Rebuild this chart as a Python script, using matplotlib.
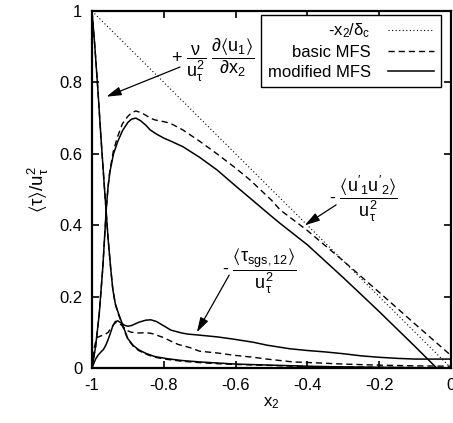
import matplotlib
matplotlib.use('Agg')
import matplotlib.pyplot as plt

plt.rcParams['font.family'] = ['Liberation Sans', 'DejaVu Sans']
plt.rcParams['font.size'] = 12
plt.rcParams['mathtext.fontset'] = 'custom'
plt.rcParams['mathtext.rm'] = 'Liberation Sans'
plt.rcParams['mathtext.it'] = 'Liberation Sans'
plt.rcParams['mathtext.sf'] = 'Liberation Sans'
plt.rcParams['mathtext.default'] = 'rm'
plt.rcParams['mathtext.fallback'] = 'stixsans'
plt.rcParams['axes.unicode_minus'] = False

# referencia: -x2/delta_c
x_ref = [-1.0, 0.0]
y_ref = [1.0, 0.0]

# tensao viscosa (modified / basic)
x_visc = [-1.0, -0.992, -0.983, -0.975, -0.965, -0.955, -0.948, -0.942, -0.935, -0.927,
          -0.919, -0.91, -0.90, -0.885, -0.87, -0.85, -0.825, -0.79, -0.75, -0.70,
          -0.65, -0.60, -0.50, -0.40, -0.30, -0.20, -0.10, 0.0]
visc_mod = [1.0, 0.9, 0.77, 0.645, 0.5, 0.36, 0.28, 0.22, 0.18, 0.155,
            0.133, 0.108, 0.082, 0.063, 0.051, 0.041, 0.032, 0.026, 0.021, 0.017,
            0.014, 0.011, 0.008, 0.005, 0.003, 0.002, 0.001, 0.0]
visc_bas = [1.0, 0.9, 0.77, 0.645, 0.5, 0.36, 0.28, 0.22, 0.178, 0.152,
            0.13, 0.105, 0.08, 0.061, 0.049, 0.039, 0.03, 0.024, 0.019, 0.015,
            0.012, 0.01, 0.007, 0.004, 0.003, 0.002, 0.001, 0.0]

# tensao de Reynolds
x_rey_mod = [-1.0, -0.99, -0.98, -0.97, -0.96, -0.955, -0.95, -0.94, -0.928, -0.915,
             -0.90, -0.89, -0.878, -0.865, -0.85, -0.838, -0.82, -0.80, -0.775, -0.747,
             -0.70, -0.652, -0.60, -0.56, -0.50, -0.476, -0.40, -0.30, -0.263, -0.20,
             -0.10, -0.04, 0.0]
rey_mod = [0.0, 0.06, 0.15, 0.28, 0.45, 0.51, 0.55, 0.60, 0.635, 0.665,
           0.688, 0.697, 0.70, 0.693, 0.68, 0.667, 0.655, 0.644, 0.633, 0.62,
           0.59, 0.555, 0.51, 0.476, 0.425, 0.405, 0.345, 0.253, 0.218, 0.158,
           0.06, 0.0, -0.04]
x_rey_bas = [-1.0, -0.99, -0.98, -0.97, -0.96, -0.955, -0.95, -0.94, -0.928, -0.915,
             -0.90, -0.89, -0.878, -0.865, -0.85, -0.838, -0.825, -0.80, -0.783, -0.747,
             -0.70, -0.652, -0.60, -0.56, -0.50, -0.476, -0.40, -0.30, -0.20, -0.10, 0.0]
rey_bas = [0.0, 0.06, 0.15, 0.28, 0.45, 0.51, 0.555, 0.61, 0.65, 0.685,
           0.705, 0.715, 0.72, 0.716, 0.708, 0.70, 0.695, 0.69, 0.686, 0.667,
           0.635, 0.60, 0.56, 0.527, 0.47, 0.443, 0.385, 0.30, 0.212, 0.123, 0.035]

# tensao sub-malha
x_sgs_mod = [-1.0, -0.99, -0.983, -0.975, -0.968, -0.961, -0.955, -0.948, -0.942, -0.935,
             -0.928, -0.92, -0.91, -0.90, -0.89, -0.87, -0.85, -0.836, -0.82, -0.80,
             -0.78, -0.75, -0.733, -0.70, -0.65, -0.607, -0.55, -0.513, -0.45, -0.40,
             -0.35, -0.30, -0.25, -0.20, -0.15, -0.10, -0.05, 0.0]
sgs_mod = [0.0, 0.025, 0.036, 0.045, 0.052, 0.065, 0.08, 0.10, 0.118, 0.13,
           0.132, 0.127, 0.12, 0.117, 0.119, 0.128, 0.134, 0.135, 0.13, 0.118,
           0.106, 0.098, 0.095, 0.092, 0.087, 0.081, 0.072, 0.064, 0.054, 0.049,
           0.045, 0.04, 0.034, 0.03, 0.027, 0.025, 0.025, 0.025]
x_sgs_bas = [-1.0, -0.993, -0.987, -0.975, -0.965, -0.955, -0.945, -0.935, -0.928, -0.92,
             -0.91, -0.90, -0.89, -0.87, -0.85, -0.835, -0.82, -0.80, -0.78, -0.76,
             -0.73, -0.70, -0.65, -0.607, -0.55, -0.513, -0.44, -0.365, -0.30, -0.20,
             -0.10, 0.0]
sgs_bas = [0.0, 0.06, 0.085, 0.09, 0.093, 0.10, 0.115, 0.127, 0.128, 0.122,
           0.112, 0.104, 0.10, 0.098, 0.099, 0.097, 0.092, 0.085, 0.075, 0.066,
           0.058, 0.047, 0.042, 0.036, 0.03, 0.025, 0.017, 0.014, 0.011, 0.008,
           0.006, 0.005]

xticks = [-1, -0.8, -0.6, -0.4, -0.2, 0]
xticklabels = ['-1', '-0.8', '-0.6', '-0.4', '-0.2', '0']
yticks = [0, 0.2, 0.4, 0.6, 0.8, 1]
yticklabels = ['0', '0.2', '0.4', '0.6', '0.8', '1']

fig = plt.figure(figsize=(4.53, 4.23), dpi=100)
ax = fig.add_axes([92 / 453, 55 / 423, 359 / 453, 357 / 423])

pontilhado = (0, (1, 2.2))
tracejado = (0, (4.5, 2.8))

ax.plot(x_ref, y_ref, color='black', lw=0.8, linestyle=pontilhado, label='-$x_2/\\delta_c$')
ax.plot(x_visc, visc_bas, color='black', lw=1.0, linestyle=tracejado, label='basic MFS')
ax.plot(x_visc, visc_mod, color='black', lw=1.1, label='modified MFS')
ax.plot(x_rey_bas, rey_bas, color='black', lw=1.0, linestyle=tracejado)
ax.plot(x_rey_mod, rey_mod, color='black', lw=1.1)
ax.plot(x_sgs_bas, sgs_bas, color='black', lw=1.0, linestyle=tracejado)
ax.plot(x_sgs_mod, sgs_mod, color='black', lw=1.1)

ax.set_xlim(-1, 0)
ax.set_ylim(0, 1)
ax.set_xticks(xticks)
ax.set_xticklabels(xticklabels)
ax.set_yticks(yticks)
ax.set_yticklabels(yticklabels)
ax.tick_params(direction='in', length=5, width=1.2, top=True, right=True, pad=7)
for s in ax.spines.values():
    s.set_linewidth(1.6)

ax.set_xlabel('$x_2$', labelpad=2)
ax.set_ylabel('$\\langle\\tau\\rangle/u_\\tau^2$', labelpad=6, fontsize=13.5)

leg = ax.legend(loc='upper right', bbox_to_anchor=(0.972, 0.989), borderaxespad=0,
                markerfirst=False, fancybox=False, edgecolor='black', framealpha=1,
                handlelength=2.8, labelspacing=0.3, borderpad=0.4, handletextpad=1.0)
leg.get_frame().set_linewidth(1.0)

seta = dict(arrowstyle='-|>,head_length=0.75,head_width=0.22', color='black', lw=0.9,
            shrinkA=0, shrinkB=0)

# anotacoes
ax.text(-0.665, 0.863, '+ $\\dfrac{\\nu}{u_\\tau^2}\\ \\dfrac{\\partial\\langle u_1\\rangle}{\\partial x_2}$',
        ha='center', va='center', fontsize=13)
ax.annotate('', xy=(-0.96, 0.76), xytext=(-0.755, 0.843), arrowprops=seta)

ax.text(-0.245, 0.474, "- $\\dfrac{\\langle u'_1u'_2\\rangle}{u_\\tau^2}$", ha='center', va='center',
        fontsize=13)
ax.annotate('', xy=(-0.407, 0.40), xytext=(-0.32, 0.457), arrowprops=seta)

ax.text(-0.535, 0.272, '- $\\dfrac{\\langle\\tau_{sgs,12}\\rangle}{u_\\tau^2}$', ha='center', va='center',
        fontsize=13)
ax.annotate('', xy=(-0.708, 0.10), xytext=(-0.618, 0.26), arrowprops=seta)

fig.savefig('out.png', dpi=100)
